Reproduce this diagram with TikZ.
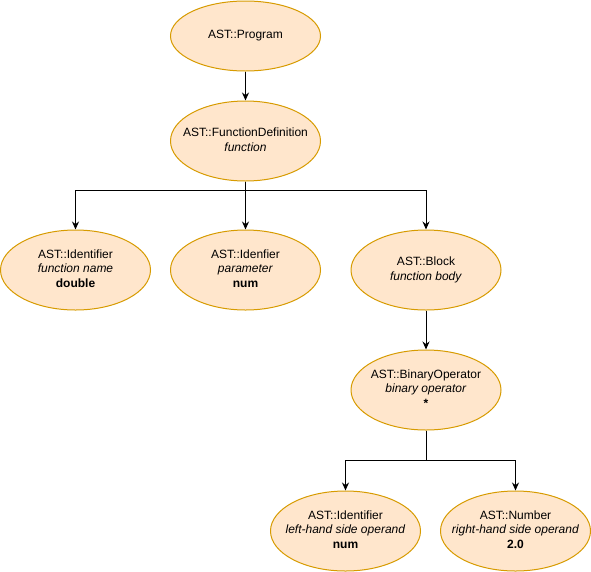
\documentclass[tikz,border=0pt]{standalone}
\usepackage{fontspec}
\setmainfont{Liberation Sans}
\usetikzlibrary{shapes.geometric,arrows.meta}
\definecolor{nodefill}{HTML}{FFE6CC}
\definecolor{nodeline}{HTML}{D79B00}
\newcommand\nodetext[1]{\raisebox{-1.5pt}{\makebox[0pt]{\begin{tabular}{@{}c@{}}#1\end{tabular}}}}
\begin{document}
\begin{tikzpicture}[x=1pt,y=-1pt,
  astnode/.style={ellipse,draw=nodeline,fill=nodefill,line width=1pt,
    minimum width=150pt,minimum height=80pt,inner sep=0pt,
    font=\fontsize{12}{14.4}\selectfont},
  conn/.style={line width=1pt,-{Stealth[length=8pt,width=7pt]}}]
\useasboundingbox (0,0) rectangle (591,571);
\node[astnode,minimum height=70pt] (prog) at (245.5,36) {\nodetext{AST::Program}};
\node[astnode] (fdef) at (245.5,141) {\nodetext{AST::FunctionDefinition\\\textit{function}}};
\node[astnode] (ident) at (75.5,270) {\nodetext{AST::Identifier\\\textit{function name}\\\textbf{double}}};
\node[astnode] (param) at (245.5,270) {\nodetext{AST::Idenfier\\\textit{parameter}\\\textbf{num}}};
\node[astnode] (block) at (426,270) {\nodetext{AST::Block\\\textit{function body}}};
\node[astnode] (binop) at (426,390) {\nodetext{AST::BinaryOperator\\\textit{binary operator}\\\textbf{*}}};
\node[astnode] (lhs) at (345.5,531) {\nodetext{AST::Identifier\\\textit{left-hand side operand}\\\textbf{num}}};
\node[astnode] (rhs) at (515.5,531) {\nodetext{AST::Number\\\textit{right-hand side operand}\\\textbf{2.0}}};
\coordinate (fork1) at (245.5,190);
\coordinate (fork2) at (426,460.5);
\draw[conn] (prog) -- (fdef);
\draw[conn] (fdef.south) -- (fork1) -| (ident.north);
\draw[conn] (fdef.south) -- (param.north);
\draw[conn] (fork1) -| (block.north);
\draw[conn] (block) -- (binop);
\draw[conn] (binop.south) -- (fork2) -| (lhs.north);
\draw[conn] (fork2) -| (rhs.north);
\end{tikzpicture}
\end{document}
